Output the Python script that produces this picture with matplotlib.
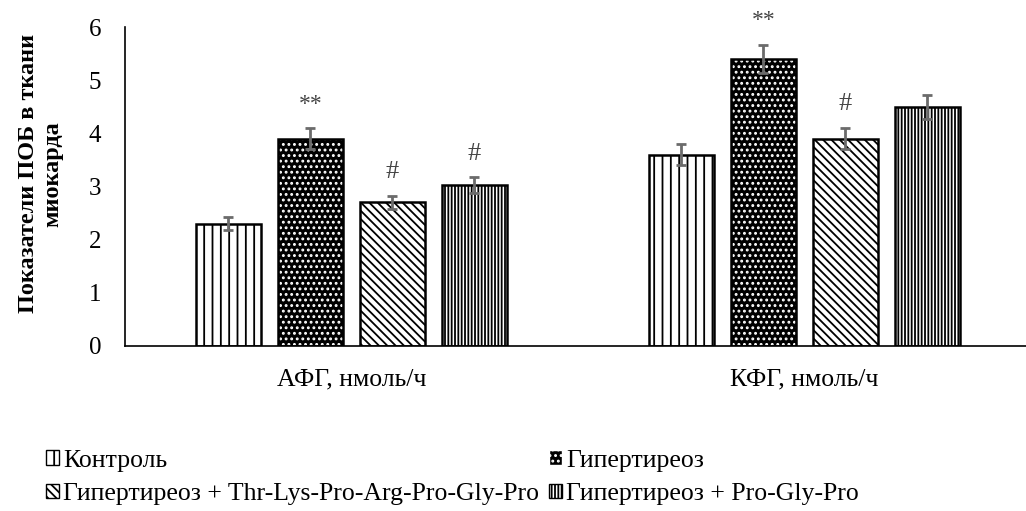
import numpy as np
import matplotlib

matplotlib.use("Agg")
import matplotlib.pyplot as plt
from matplotlib.patches import Patch

plt.rcParams["font.family"] = ["Liberation Serif", "DejaVu Serif"]
plt.rcParams["hatch.linewidth"] = 1.3

# данные
groups = ["АФГ, нмоль/ч", "КФГ, нмоль/ч"]
series = ["Контроль", "Гипертиреоз",
          "Гипертиреоз + Thr-Lys-Pro-Arg-Pro-Gly-Pro", "Гипертиреоз + Pro-Gly-Pro"]
values = [
    [2.30, 3.60],
    [3.90, 5.40],
    [2.70, 3.90],
    [3.02, 4.50],
]
errors = [
    [0.12, 0.20],
    [0.20, 0.27],
    [0.12, 0.20],
    [0.15, 0.23],
]
marks = [
    ["", ""],
    ["**", "**"],
    ["#", "#"],
    ["#", ""],
]

# стиль заливки: (facecolor, цвет штриховки, штриховка)
styles = [
    ("white", "black", "||"),
    ("black", "white", "..."),
    ("white", "black", "\\\\\\\\"),
    ("white", "black", "|||||"),
]

fig = plt.figure(figsize=(10.26, 5.11), dpi=100)
ax = fig.add_axes([0.1218, 0.323, 0.883, 0.624])

x = np.arange(len(groups))
w, step = 0.143, 0.181
offs = (np.arange(len(series)) - 1.5) * step

handles = []
for i, name in enumerate(series):
    fc, hc, hatch = styles[i]
    xs = x + offs[i]
    ax.bar(xs, values[i], w, color=fc, edgecolor=hc, hatch=hatch, linewidth=0)
    ax.bar(xs, values[i], w, fill=False, edgecolor="black", linewidth=1.8)
    ax.errorbar(xs, values[i], yerr=errors[i], fmt="none", ecolor="#6b6b6b",
                elinewidth=2, capsize=3.5, capthick=2)
    for xi, v, e, m in zip(xs, values[i], errors[i], marks[i]):
        if m:
            ax.text(xi, v + e + 0.45, m, ha="center", va="center",
                    fontsize=19 if m == "#" else 17, color="#444444",
                    clip_on=False)
    handles.append(Patch(facecolor=fc, edgecolor=hc, hatch=hatch))

ax.set_xlim(-0.5, 1.5)
ax.set_ylim(0, 6)
ax.set_yticks(range(7))
ax.set_xticks(x)
ax.set_xticklabels(groups, fontsize=18.5)
ax.tick_params(axis="y", labelsize=18, length=0, pad=17)
ax.tick_params(axis="x", length=0, pad=16)
for s in ["top", "right"]:
    ax.spines[s].set_visible(False)
ax.spines["left"].set_linewidth(1.2)
ax.spines["bottom"].set_linewidth(1.2)
ax.set_ylabel("Показатели ПОБ в ткани\nмиокарда", fontsize=17.5,
              fontweight="bold")
ax.yaxis.set_label_coords(-0.068, 0.54)

order = [0, 2, 1, 3]
fig.legend([handles[k] for k in order], [series[k] for k in order],
           ncol=2, loc="upper left", bbox_to_anchor=(0.045, 0.12),
           frameon=False, fontsize=18.5, handlelength=0.5, handleheight=0.5,
           handletextpad=0.15, columnspacing=0.4, labelspacing=0.45,
           borderaxespad=0, borderpad=0)

fig.savefig("out.png", dpi=100, facecolor="white")
